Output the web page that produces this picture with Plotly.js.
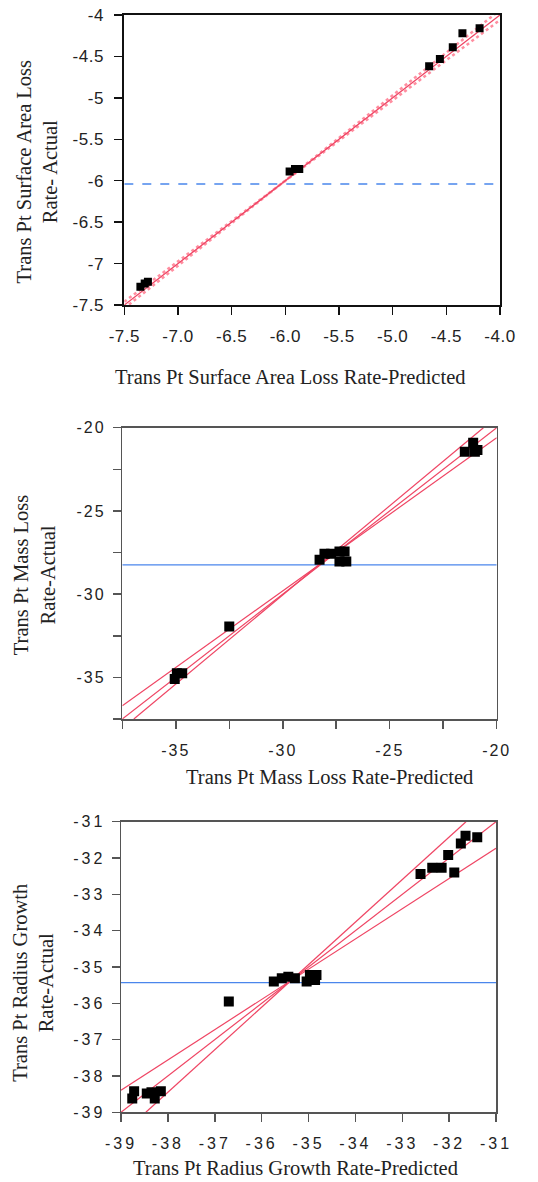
<!DOCTYPE html>
<html>
<head>
<meta charset="utf-8">
<script src="https://cdn.plot.ly/plotly-3.0.1.min.js"></script>
<style>
  html, body { margin: 0; padding: 0; background: #fff; }
  .xtick text, .ytick text { letter-spacing: 0.5px; }
  .x2tick text, .y2tick text { letter-spacing: 2px; }
  .x3tick text, .y3tick text { letter-spacing: 3px; }
</style>
</head>
<body>
<div id="chart" style="width:538px;height:1182px;"></div>
<script>
// ---------- Panel 1: Surface Area Loss Rate ----------
const p1Predicted = [-7.35, -7.31, -7.28, -5.96, -5.91, -5.87, -4.66, -4.56, -4.44, -4.35, -4.19];
const p1Actual    = [-7.28, -7.24, -7.22, -5.89, -5.86, -5.86, -4.62, -4.53, -4.39, -4.22, -4.16];
const p1FitX   = [-7.5, -6.05, -4.0];
const p1FitY   = [-7.5, -6.05, -4.0];
const p1UpperY = [-7.46, -6.05, -3.94];
const p1LowerY = [-7.54, -6.05, -4.06];
const p1Mean   = -6.04;
const p1XTickVals = [-7.5, -7.0, -6.5, -6.0, -5.5, -5.0, -4.5, -4.0];
const p1XTickText = ['-7.5', '-7.0', '-6.5', '-6.0', '-5.5', '-5.0', '-4.5', '-4.0'];
const p1YTickVals = [-4, -4.5, -5, -5.5, -6, -6.5, -7, -7.5];
const p1YTickText = ['-4', '-4.5', '-5', '-5.5', '-6', '-6.5', '-7', '-7.5'];

// ---------- Panel 2: Mass Loss Rate ----------
const p2Predicted = [-35.05, -34.95, -34.7, -32.5, -28.28, -28.05, -27.74, -27.35, -27.11, -27.35, -27.03, -21.49, -21.1, -21.02, -20.9];
const p2Actual    = [-35.1, -34.75, -34.75, -31.94, -27.94, -27.58, -27.58, -27.44, -27.44, -28.04, -28.04, -21.44, -20.9, -21.44, -21.34];
const p2FitX     = [-37.5, -20];
const p2FitY     = [-37.5, -20];
const p2ShallowX = [-37.5, -20];
const p2ShallowY = [-36.7, -20.6];
const p2SteepX   = [-36.96, -20.62];
const p2SteepY   = [-37.5, -20];
const p2Mean     = -28.24;
const p2TickVals = [-37.5, -35, -32.5, -30, -27.5, -25, -22.5, -20];
const p2TickText = ['', '-35', '', '-30', '', '-25', '', '-20'];

// ---------- Panel 3: Radius Growth Rate ----------
const p3Predicted = [-38.76, -38.72, -38.45, -38.35, -38.28, -38.15, -36.70, -35.74, -35.57, -35.43, -35.29, -35.04, -34.97, -34.86, -34.83, -32.61, -32.36, -32.16, -32.02, -31.89, -31.75, -31.65, -31.40];
const p3Actual    = [-38.62, -38.42, -38.48, -38.45, -38.62, -38.42, -35.95, -35.40, -35.31, -35.27, -35.31, -35.40, -35.22, -35.36, -35.22, -32.44, -32.27, -32.27, -31.92, -32.40, -31.60, -31.39, -31.43];
const p3FitX     = [-39, -31];
const p3FitY     = [-39, -31];
const p3ShallowX = [-39, -31];
const p3ShallowY = [-38.39, -31.73];
const p3SteepX   = [-38.47, -31.64];
const p3SteepY   = [-39, -31];
const p3Mean     = -35.43;
const p3TickVals = [-39, -38, -37, -36, -35, -34, -33, -32, -31];
const p3TickText = ['-39', '-38', '-37', '-36', '-35', '-34', '-33', '-32', '-31'];

const RED = '#ef4564';
const BLUE = '#4a86ec';
const TICKFONT1 = {family: 'Liberation Sans, Arial, sans-serif', size: 17, color: '#222'};
const TICKFONT = {family: 'Liberation Sans, Arial, sans-serif', size: 16, color: '#222'};
const TITLEFONT = {family: 'Liberation Serif, Times New Roman, serif', size: 20.5, color: '#222'};

function pts(x, y, xa, ya, size) {
  return {x: x, y: y, xaxis: xa, yaxis: ya, mode: 'markers', type: 'scatter',
          marker: {symbol: 'square', size: size, color: '#000'}, hoverinfo: 'skip'};
}
function line(x, y, xa, ya, color, width, dash) {
  return {x: x, y: y, xaxis: xa, yaxis: ya, mode: 'lines', type: 'scatter',
          line: {color: color, width: width, dash: dash || 'solid'}, hoverinfo: 'skip'};
}

const traces = [
  // panel 1
  line([p1XTickVals[0], p1XTickVals[p1XTickVals.length - 1]], [p1Mean, p1Mean], 'x', 'y', BLUE, 1.5, 'dash'),
  line(p1FitX, p1UpperY, 'x', 'y', '#ff8ea0', 2.5, 'dot'),
  line(p1FitX, p1LowerY, 'x', 'y', '#ff8ea0', 2.5, 'dot'),
  line(p1FitX, p1FitY, 'x', 'y', RED, 1.3),
  pts(p1Predicted, p1Actual, 'x', 'y', 8),
  // panel 2
  line([p2TickVals[0], p2TickVals[p2TickVals.length - 1]], [p2Mean, p2Mean], 'x2', 'y2', BLUE, 1.2),
  line(p2FitX, p2FitY, 'x2', 'y2', RED, 1.2),
  line(p2ShallowX, p2ShallowY, 'x2', 'y2', RED, 1.2),
  line(p2SteepX, p2SteepY, 'x2', 'y2', RED, 1.2),
  pts(p2Predicted, p2Actual, 'x2', 'y2', 10),
  // panel 3
  line([p3TickVals[0], p3TickVals[p3TickVals.length - 1]], [p3Mean, p3Mean], 'x3', 'y3', BLUE, 1.2),
  line(p3FitX, p3FitY, 'x3', 'y3', RED, 1.2),
  line(p3ShallowX, p3ShallowY, 'x3', 'y3', RED, 1.2),
  line(p3SteepX, p3SteepY, 'x3', 'y3', RED, 1.2),
  pts(p3Predicted, p3Actual, 'x3', 'y3', 10)
];

function axis(domain, range, tickvals, ticktext, anchor, color, lw, font) {
  return {domain: domain, range: range, tickmode: 'array', tickvals: tickvals, ticktext: ticktext,
          anchor: anchor, showline: true, mirror: true, linecolor: color, linewidth: lw,
          ticks: 'outside', ticklen: 8, tickwidth: 1.5, tickcolor: color,
          showgrid: false, zeroline: false, tickfont: font || TICKFONT, fixedrange: true};
}

const layout = {
  width: 538, height: 1182,
  margin: {l: 0, r: 0, t: 0, b: 0},
  paper_bgcolor: '#fff', plot_bgcolor: '#fff',
  showlegend: false,
  xaxis:  Object.assign(axis([124.3/538, 500/538], [-7.5, -4.0], p1XTickVals, p1XTickText, 'y', '#111', 2, TICKFONT1), {ticklabelstandoff: 7}),
  yaxis:  Object.assign(axis([1 - 305/1182, 1 - 15/1182], [-7.5, -4.0], p1YTickVals, p1YTickText, 'x', '#111', 2, TICKFONT1), {ticklabelstandoff: 7}),
  xaxis2: Object.assign(axis([122.3/538, 496.7/538], [-37.5, -20], p2TickVals, p2TickText, 'y2', '#555', 1.5), {ticklabelstandoff: 8}),
  yaxis2: Object.assign(axis([1 - 719/1182, 1 - 427.7/1182], [-37.5, -20], p2TickVals, p2TickText, 'x2', '#555', 1.5), {ticklabelstandoff: 4}),
  xaxis3: Object.assign(axis([121/538, 496/538], [-39, -31], p3TickVals, p3TickText, 'y3', '#555', 1.5), {ticklabelstandoff: 8}),
  yaxis3: Object.assign(axis([1 - 1112.3/1182, 1 - 821.7/1182], [-39, -31], p3TickVals, p3TickText, 'x3', '#555', 1.5), {ticklabelstandoff: 3}),
  annotations: [
    {text: 'Trans Pt Surface Area Loss Rate-Predicted', xref: 'paper', yref: 'paper',
     x: 290.5/538, y: 1 - 377/1182, xanchor: 'center', yanchor: 'middle', showarrow: false, font: TITLEFONT},
    {text: 'Trans Pt Surface Area Loss<br>Rate- Actual', xref: 'paper', yref: 'paper',
     x: 36.5/538, y: 1 - 172/1182, xanchor: 'center', yanchor: 'middle', textangle: -90, showarrow: false, font: TITLEFONT},
    {text: 'Trans Pt Mass Loss Rate-Predicted', xref: 'paper', yref: 'paper',
     x: 329/538, y: 1 - 776.7/1182, xanchor: 'center', yanchor: 'middle', showarrow: false, font: TITLEFONT},
    {text: 'Trans Pt Mass Loss<br>Rate-Actual', xref: 'paper', yref: 'paper',
     x: 34.2/538, y: 1 - 575/1182, xanchor: 'center', yanchor: 'middle', textangle: -90, showarrow: false, font: TITLEFONT},
    {text: 'Trans Pt Radius Growth Rate-Predicted', xref: 'paper', yref: 'paper',
     x: 295.5/538, y: 1 - 1181/1182, xanchor: 'center', yanchor: 'bottom', showarrow: false, font: TITLEFONT},
    {text: 'Trans Pt Radius Growth<br>Rate-Actual', xref: 'paper', yref: 'paper',
     x: 33.3/538, y: 1 - 982.5/1182, xanchor: 'center', yanchor: 'middle', textangle: -90, showarrow: false, font: TITLEFONT}
  ]
};

Plotly.newPlot('chart', traces, layout, {staticPlot: true, displayModeBar: false});
</script>
</body>
</html>
